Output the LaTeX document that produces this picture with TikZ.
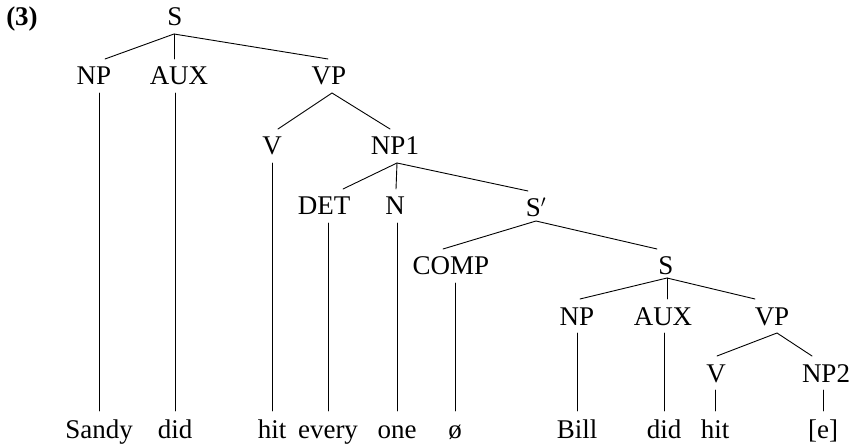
\documentclass[tikz,border=0pt]{standalone}
\usepackage{fontspec}
\setmainfont{Liberation Serif}
\begin{document}
\begin{tikzpicture}[x=1pt,y=-1pt,
  every node/.style={font=\fontsize{27}{30}\selectfont, anchor=base, inner xsep=1pt, inner ysep=8pt, outer sep=0pt},
  cat/.style={text height=18pt, text depth=0pt},
  leaf/.style={text height=19pt, text depth=6pt},
  edge/.style={line width=0.9pt, line cap=round}]
\useasboundingbox (0,0) rectangle (862,446);
% example number
\node[cat, font=\fontsize{27}{30}\selectfont\bfseries] (ex) at (22,26) {(3)};
% categories
\node[cat] (S0)   at (175,26)  {S};
\node[cat] (NPa)  at (94,85)   {NP};
\node[cat] (AUXa) at (179,85)  {AUX};
\node[cat] (VPa)  at (329,85)  {VP};
\node[cat] (Va)   at (272,155) {V};
\node[cat] (NP1)  at (395,155) {NP1};
\node[cat] (DET)  at (324,215) {DET};
\node[cat] (N)    at (395,215) {N};
\node[cat] (Sbar) at (536,217) {S$'$};
\node[cat] (COMP) at (451,275) {COMP};
\node[cat] (Sb)   at (666,275) {S};
\node[cat] (NPb)  at (577,325) {NP};
\node[cat] (AUXb) at (663,325) {AUX};
\node[cat] (VPb)  at (772,325) {VP};
\node[cat] (Vb)   at (716,382) {V};
\node[cat] (NP2)  at (826,382) {NP2};
% leaves
\node[leaf] (Sandy) at (99,438)  {Sandy};
\node[leaf] (did)   at (175,438) {did};
\node[leaf] (hit)   at (272,438) {hit};
\node[leaf] (every) at (328,438) {every};
\node[leaf] (one)   at (397,438) {one};
\node[leaf] (zero)  at (455,438) {ø};
\node[leaf] (Bill)  at (577,438) {Bill};
\node[leaf] (didb)  at (664,438) {did};
\node[leaf] (hitb)  at (715,438) {hit};
\node[leaf] (e)     at (823,438) {[e]};
% branches
\draw[edge] ([xshift=11pt]NPa.north) -- ([xshift=-1pt]S0.south) -- ([xshift=-1pt]VPa.north);
\draw[edge] ([xshift=-1pt]S0.south) -- ([xshift=-5pt]AUXa.north);
\draw[edge] ([xshift=6pt]Va.north) -- ([xshift=3pt]VPa.south) -- ([xshift=-5pt]NP1.north);
\draw[edge] ([xshift=19pt]DET.north) -- ([xshift=2pt]NP1.south) -- ([xshift=-8pt]Sbar.north);
\draw[edge] ([xshift=2pt]NP1.south) -- ([xshift=1pt]N.north);
\draw[edge] ([xshift=-8pt]COMP.north) -- ([yshift=4pt]Sbar.south) -- ([xshift=-9pt]Sb.north);
\draw[edge] ([xshift=3pt]NPb.north) -- ([xshift=1pt,yshift=5pt]Sb.south) -- ([xshift=-17pt]VPb.north);
\draw[edge] ([xshift=1pt,yshift=5pt]Sb.south) -- ([xshift=4pt]AUXb.north);
\draw[edge] ([xshift=1pt]Vb.north) -- ([xshift=5pt]VPb.south) -- ([xshift=-14pt]NP2.north);
% vertical lines to leaves
\draw[edge] (Sandy.north) -- (Sandy.north |- NPa.south);
\draw[edge] (did.north) -- (did.north |- AUXa.south);
\draw[edge] (hit.north) -- (hit.north |- Va.south);
\draw[edge] (every.north) -- (every.north |- DET.south);
\draw[edge] (one.north) -- (one.north |- N.south);
\draw[edge] (zero.north) -- (zero.north |- COMP.south);
\draw[edge] (Bill.north) -- (Bill.north |- NPb.south);
\draw[edge] (didb.north) -- (didb.north |- AUXb.south);
\draw[edge] (hitb.north) -- (hitb.north |- Vb.south);
\draw[edge] (e.north) -- (e.north |- NP2.south);
\end{tikzpicture}
\end{document}
